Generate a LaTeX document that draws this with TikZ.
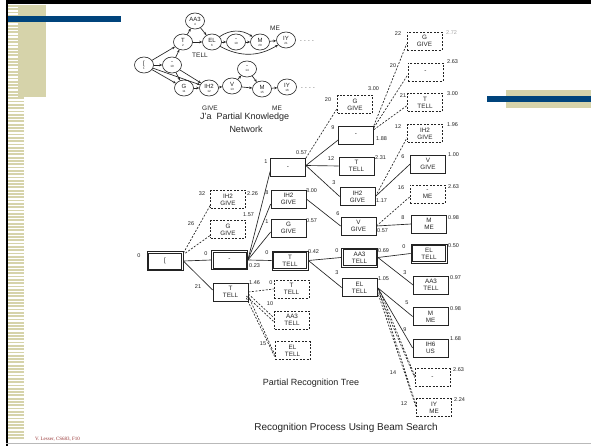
\documentclass[tikz,border=0pt]{standalone}
\usepackage{fontspec}
\setmainfont{Liberation Sans}
\newfontfamily\footfont{Liberation Serif}
\usetikzlibrary{shapes.geometric,arrows.meta}
\definecolor{slbeige}{RGB}{214,211,170}
\definecolor{slblue}{RGB}{0,68,124}
\definecolor{ink}{RGB}{35,35,35}
\definecolor{footred}{RGB}{150,50,50}
\begin{document}
\begin{tikzpicture}[x=1pt,y=-1pt,
  box/.style={draw=ink, line width=0.75pt, minimum width=35pt, minimum height=18pt, inner sep=0pt, align=center, font=\fontsize{6.3}{7.3}\selectfont, text=ink},
  dbox/.style={box, dash pattern=on 2pt off 1.5pt},
  wbox/.style={box, minimum height=19pt, minimum width=36pt, path picture={\draw[ink,line width=0.6pt] ([shift={(1.5pt,-1.5pt)}]path picture bounding box.north west) rectangle ([shift={(-1.5pt,1.5pt)}]path picture bounding box.south east);}},
  lbl/.style={font=\fontsize{5.5}{6}\selectfont, text=ink, inner sep=0pt},
  edge/.style={draw=ink, line width=0.65pt},
  dedge/.style={edge, dash pattern=on 2pt off 1.5pt},
  nn/.style={ellipse, draw=ink, line width=0.6pt, minimum width=19pt, minimum height=16pt, inner sep=0pt, align=center, font=\fontsize{6}{5}\selectfont, text=ink},
  arr/.style={edge, -{Stealth[length=3pt,width=2.5pt]}},
  ttl/.style={font=\fontsize{9}{10}\selectfont, text=ink, inner sep=0pt},
  nlbl/.style={font=\fontsize{6.5}{7}\selectfont, text=ink, inner sep=0pt},
]
\useasboundingbox (0,0) rectangle (591,446);
% ---------- slide decoration ----------
\fill[white] (0,0) rectangle (591,446);
\foreach \i in {0,...,131} \fill[slbeige] (8,{5+\i*3.3}) rectangle (24,{6.8+\i*3.3});
\fill[slbeige] (18,5) rectangle (46,97);
\fill[slblue] (7,16) rectangle (121,22);
\fill[black] (6,0) rectangle (591,4);
\fill[black] (6,0) rectangle (7.5,446);
\fill[gray!55] (6,442.5) rectangle (591,444);
\fill[slbeige] (506,90) rectangle (591,108);
\fill[slblue] (487,96) rectangle (591,102);
\node[font=\footfont\fontsize{5}{6}\selectfont, text=footred, anchor=west, inner sep=0pt] (foot) at (35,439) {V. Lesser, CS683, F10};

% ---------- partial knowledge network ----------
\node[nn] (n1) at (144,65) {[\\[-1pt]{\fontsize{3}{3}\selectfont 1}};
\node[nn] (n10) at (172,65) {-\\[-1pt]{\fontsize{3}{3}\selectfont 10}};
\node[nn] (n2) at (183,42) {T\\[-1pt]{\fontsize{3}{3}\selectfont 2}};
\node[nn] (n4) at (195,21) {AA3\\[-1pt]{\fontsize{3}{3}\selectfont 4}};
\node[nn] (n6) at (212,42) {EL\\[-1pt]{\fontsize{3}{3}\selectfont 6}};
\node[nn] (n19) at (236,42) {-\\[-1pt]{\fontsize{3}{3}\selectfont 19}};
\node[nn] (n20) at (260,42) {M\\[-1pt]{\fontsize{3}{3}\selectfont 20}};
\node[nn] (n21) at (286,40) {IY\\[-1pt]{\fontsize{3}{3}\selectfont 21}};
\node[nn] (n11) at (184,88) {G\\[-1pt]{\fontsize{3}{3}\selectfont 11}};
\node[nn] (n12) at (209,88) {IH2\\[-1pt]{\fontsize{3}{3}\selectfont 12}};
\node[nn] (n13) at (232,86) {V\\[-1pt]{\fontsize{3}{3}\selectfont 13}};
\node[nn] (n14) at (247,69) {-\\[-1pt]{\fontsize{3}{3}\selectfont 14}};
\node[nn] (n15) at (262,89) {M\\[-1pt]{\fontsize{3}{3}\selectfont 15}};
\node[nn] (n16) at (287,87) {IY\\[-1pt]{\fontsize{3}{3}\selectfont 16}};
\node[nlbl, anchor=west] (dots1) at (300,41) {.\,\,.\,\,.\,\,.};
\node[nlbl, anchor=west] (dots2) at (301,88) {.\,\,.\,\,.\,\,.};
\node[nlbl] (wtell) at (200,55) {TELL};
\node[nlbl] (wme1) at (275,28) {ME};
\node[nlbl] (wgive) at (210,108) {GIVE};
\node[nlbl] (wme2) at (277,108) {ME};
\node[ttl, anchor=west] (pkn) at (200,117) {J'a\ \ Partial Knowledge};
\node[ttl] (pkn2) at (246,129) {Network};
\draw[arr] (n1) -- (n2);
\draw[arr] (n1) -- (n10);
\draw[arr] (n1) -- (n11);
\draw[arr] (n1) -- (n12);
\draw[arr] (n10) -- (n2);
\draw[arr] (n10) -- (n11);
\draw[arr] (n10) -- (n12);
\draw[arr] (n2) -- (n4);
\draw[arr] (n2) -- (n6);
\draw[arr] (n4) -- (n6);
\draw[arr] (n6) -- (n19);
\draw[arr] (n19) -- (n20);
\draw[arr] (n6) to[bend left=35] (n20);
\draw[arr] (n6) to[bend right=30] (n21);
\draw[arr] (n20) -- (n21);
\draw[arr] (n11) -- (n12);
\draw[arr] (n12) -- (n13);
\draw[arr] (n13) -- (n14);
\draw[arr] (n14) -- (n15);
\draw[arr] (n13) -- (n15);
\draw[arr] (n15) -- (n16);

% ---------- partial recognition tree: boxes ----------
\node[wbox] (R) at (165,261) {[};
\node[wbox] (L1a) at (229.5,260) {-};
\node[dbox] (L1b) at (228,199.5) {IH2\\GIVE};
\node[dbox] (L1c) at (228,229.5) {G\\GIVE};
\node[box] (L1d) at (230.5,292) {T\\TELL};
\node[box] (L2a) at (288,167.5) {-};
\node[box] (L2b) at (288.5,199) {IH2\\GIVE};
\node[box] (L2c) at (288.5,228) {G\\GIVE};
\node[wbox] (L2d) at (290,260.5) {T\\TELL};
\node[dbox] (L2e) at (291.5,289) {T\\TELL};
\node[dbox] (L2f) at (292,320) {AA3\\TELL};
\node[dbox] (L2g) at (292.5,350.5) {EL\\TELL};
\node[dbox] (L3a) at (355,104.5) {G\\GIVE};
\node[box] (L3b) at (356,135) {-};
\node[box] (L3c) at (356.5,166) {T\\TELL};
\node[box] (L3d) at (357.5,196.5) {IH2\\GIVE};
\node[box] (L3e) at (358.5,226) {V\\GIVE};
\node[wbox] (L3f) at (359.5,257.5) {AA3\\TELL};
\node[box] (L3g) at (359.5,287.5) {EL\\TELL};
\node[dbox] (L4a) at (424.5,41) {G\\GIVE};
\node[dbox] (L4b) at (425.5,72) {-};
\node[dbox] (L4c) at (425,102.5) {T\\TELL};
\node[dbox] (L4d) at (425,133.5) {IH2\\GIVE};
\node[box] (L4e) at (428,164) {V\\GIVE};
\node[dbox] (L4f) at (427.5,194) {-\\ME};
\node[box] (L4g) at (429,224) {M\\ME};
\node[wbox] (L4h) at (429,253.5) {EL\\TELL};
\node[box] (L4i) at (431,285) {AA3\\TELL};
\node[box] (L4j) at (430.5,316.5) {M\\ME};
\node[box] (L4k) at (430.5,348) {IH6\\US};
\node[dbox] (L4l) at (432.5,377.5) {-};
\node[dbox] (L4m) at (434,407.5) {IY\\ME};

% ---------- tree connectors ----------
\draw[edge] (R.east) -- (L1a.west);
\draw[edge] (R.east) -- ([yshift=2pt]L1d.west);
\draw[dedge] ([yshift=-2pt]R.north east) -- ([yshift=-6pt]L1b.west);
\draw[dedge] ([xshift=2pt,yshift=-2pt]R.north east) -- ([yshift=-6pt]L1c.west);
\draw[edge] (L1a.east) -- ([yshift=-4pt]L2a.west);
\draw[edge] (L1a.east) -- ([yshift=-5pt]L2b.west);
\draw[edge] (L1a.east) -- ([yshift=-4pt]L2c.west);
\draw[edge] (L1a.east) -- (L2d.west);
\draw[dedge] (L1d.east) -- (L2e.west);
\draw[dedge] ([yshift=-2pt]L1d.east) -- ([yshift=2pt]L2f.west);
\draw[dedge] ([xshift=-2pt,yshift=-4pt]L1d.east) -- ([yshift=-2pt]L2f.west);
\draw[dedge] ([yshift=-4pt]L1d.east) -- ([yshift=-4pt]L2g.west);
\draw[dedge] ([xshift=-2pt,yshift=-6pt]L1d.east) -- ([yshift=-6pt]L2g.west);
\draw[dedge] (L2a.north east) -- ([yshift=-4pt]L3a.west);
\draw[edge] ([yshift=2pt]L2a.east) -- ([yshift=-5pt]L3b.west);
\draw[edge] ([yshift=2pt]L2a.east) -- (L3c.west);
\draw[edge] ([yshift=2pt]L2a.east) -- (L3d.west);
\draw[edge] (L2b.east) -- (L3e.west);
\draw[edge] (L2d.east) -- (L3f.west);
\draw[edge] (L2d.east) -- (L3g.west);
\draw[dedge] (L3b.north east) -- ([yshift=-3pt]L4a.west);
\draw[dedge] ([yshift=-2pt]L3b.north east) -- ([yshift=-3pt]L4b.west);
\draw[dedge] ([yshift=-4pt]L3b.north east) -- ([yshift=-3pt]L4c.west);
\draw[dedge] (L3d.east) -- ([yshift=-4pt]L4d.west);
\draw[edge] (L3d.east) -- (L4e.west);
\draw[dedge] (L3e.east) -- ([yshift=-3pt]L4f.west);
\draw[edge] (L3e.east) -- (L4g.west);
\draw[edge] (L3f.east) -- (L4h.west);
\draw[edge] (L3f.east) -- (L4i.west);
\draw[edge] (L3g.east) -- (L4j.west);
\draw[edge] (L3g.east) -- (L4k.west);
\draw[dedge] ([yshift=-2pt]L3g.east) -- (L4l.west);
\draw[dedge] ([xshift=2pt,yshift=-2pt]L3g.east) -- ([yshift=2pt]L4l.west);
\draw[dedge] ([yshift=-4pt]L3g.east) -- (L4m.west);
\draw[dedge] ([xshift=2pt,yshift=-4pt]L3g.east) -- ([yshift=2pt]L4m.west);

% ---------- tree numbers ----------
\node[lbl] (a1) at (139,256) {0};
\node[lbl] (a2) at (206,254) {0};
\node[lbl,anchor=west] (a3) at (249,266) {0.23};
\node[lbl] (a4) at (202,194) {32};
\node[lbl,anchor=west] (a5) at (247,194) {2.26};
\node[lbl] (a6) at (191,224) {26};
\node[lbl,anchor=west] (a7) at (243,215) {1.57};
\node[lbl] (a8) at (198,287) {21};
\node[lbl,anchor=west] (a9) at (249,283) {1.46};
\node[lbl] (b1) at (266,162) {1};
\node[lbl,anchor=west] (b2) at (296,153) {0.57};
\node[lbl] (b3) at (267,193) {8};
\node[lbl,anchor=west] (b4) at (306,191) {3.00};
\node[lbl] (b5) at (267,222) {1};
\node[lbl,anchor=west] (b6) at (306,221) {0.57};
\node[lbl] (b7) at (267,253) {0};
\node[lbl,anchor=west] (b8) at (308,252) {0.42};
\node[lbl] (b9) at (271,283) {0};
\node[lbl] (b10) at (270,304) {10};
\node[lbl] (b11) at (263,344) {15};
\node[lbl] (c1) at (328,100) {20};
\node[lbl,anchor=west] (c2) at (368,89) {3.00};
\node[lbl] (c3) at (333,128) {9};
\node[lbl,anchor=west] (c4) at (376,139) {1.88};
\node[lbl] (c5) at (331,159) {12};
\node[lbl,anchor=west] (c6) at (375,158) {2.31};
\node[lbl] (c7) at (334,183) {3};
\node[lbl,anchor=west] (c8) at (376,201) {1.17};
\node[lbl] (c9) at (338,214) {6};
\node[lbl,anchor=west] (c10) at (377,231) {0.57};
\node[lbl] (c11) at (337,251) {0};
\node[lbl,anchor=west] (c12) at (378,251) {0.69};
\node[lbl] (c13) at (337,273) {3};
\node[lbl,anchor=west] (c14) at (378,279) {1.05};
\node[lbl] (d1) at (398,34) {22};
\node[lbl,anchor=west,text=ink!40] (d2) at (446,33) {2.72};
\node[lbl] (d3) at (393,66) {20};
\node[lbl,anchor=west] (d4) at (447,62) {2.63};
\node[lbl] (d5) at (403,96) {21};
\node[lbl,anchor=west] (d6) at (447,94) {3.00};
\node[lbl] (d7) at (398,127) {12};
\node[lbl,anchor=west] (d8) at (447,125) {1.96};
\node[lbl] (d9) at (403,157) {6};
\node[lbl,anchor=west] (d10) at (448,155) {1.00};
\node[lbl] (d11) at (401,188) {16};
\node[lbl,anchor=west] (d12) at (448,187) {2.63};
\node[lbl] (d13) at (403,218) {8};
\node[lbl,anchor=west] (d14) at (448,218) {0.98};
\node[lbl] (d15) at (404,247) {0};
\node[lbl,anchor=west] (d16) at (448,246) {0.50};
\node[lbl] (d17) at (405,273) {3};
\node[lbl,anchor=west] (d18) at (450,278) {0.97};
\node[lbl] (d19) at (407,303) {5};
\node[lbl,anchor=west] (d20) at (450,309) {0.98};
\node[lbl] (d21) at (405,330) {9};
\node[lbl,anchor=west] (d22) at (450,339) {1.68};
\node[lbl] (d23) at (393,373) {14};
\node[lbl,anchor=west] (d24) at (453,370) {2.63};
\node[lbl] (d25) at (404,404) {12};
\node[lbl,anchor=west] (d26) at (454,400) {2.24};

% ---------- captions ----------
\node[ttl] (prt) at (311,383) {Partial Recognition Tree};
\node[ttl, font=\fontsize{10}{12}\selectfont] (rpub) at (346,428) {Recognition Process Using Beam Search};
\end{tikzpicture}
\end{document}
